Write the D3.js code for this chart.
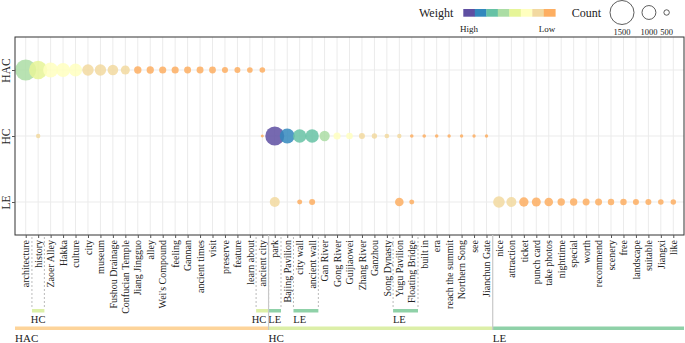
<!DOCTYPE html>
<html>
<head>
<meta charset="utf-8">
<script src="https://cdn.jsdelivr.net/npm/d3@7/dist/d3.min.js"></script>
<style>
    body { margin: 0; background: #fff; }
    svg { display: block; font-family: "Liberation Serif", "Times New Roman", serif; }
</style>
</head>
<body>
<div id="chart"></div>
<script>
// Themes (rows) and the words of each theme (columns)
const themes = ["HAC", "HC", "LE"];
const hacWords = ["architecture", "history", "Zaoer Alley", "Hakka", "culture", "city", "museum",
    "Fushou Drainage", "Confucian Temple", "Jiang Jingguo", "alley", "Wei's Compound", "feeling",
    "Gannan", "ancient times", "visit", "preserve", "feature", "learn about", "ancient city"];
const hcWords = ["park", "Bajing Pavilion", "city wall", "ancient wall", "Gan River", "Gong River",
    "Guijiaowei", "Zhang River", "Ganzhou", "Song Dynasty", "Yugu Pavilion", "Floating Bridge",
    "built in", "era", "reach the summit", "Northern Song", "see", "Jianchun Gate"];
const leWords = ["nice", "attraction", "ticket", "punch card", "take photos", "nighttime", "special",
    "worth", "recommend", "scenery", "free", "landscape", "suitable", "Jiangxi", "like"];

// [word, count, weight 0..1]
const hacPoints = [
    ["architecture", 1360, 0.57], ["history", 1230, 0.45], ["Zaoer Alley", 1060, 0.32],
    ["Hakka", 1005, 0.32], ["culture", 955, 0.32], ["city", 865, 0.2], ["museum", 865, 0.2],
    ["Fushou Drainage", 820, 0.2], ["Confucian Temple", 725, 0.2], ["Jiang Jingguo", 627, 0.07],
    ["alley", 620, 0.07], ["Wei's Compound", 610, 0.07], ["feeling", 610, 0.07], ["Gannan", 600, 0.07],
    ["ancient times", 600, 0.07], ["visit", 590, 0.07], ["preserve", 540, 0.07], ["feature", 537, 0.07],
    ["learn about", 515, 0.07], ["ancient city", 510, 0.07]
];
const hcPoints = [
    ["history", 427, 0.2], ["ancient city", 321, 0.07], ["park", 1262, 0.95],
    ["Bajing Pavilion", 1059, 0.82], ["city wall", 974, 0.7], ["ancient wall", 974, 0.7],
    ["Gan River", 800, 0.57], ["Gong River", 610, 0.32], ["Guijiaowei", 577, 0.32],
    ["Zhang River", 537, 0.2], ["Ganzhou", 490, 0.2], ["Song Dynasty", 450, 0.2],
    ["Yugu Pavilion", 427, 0.2], ["Floating Bridge", 368, 0.07], ["built in", 368, 0.07],
    ["era", 365, 0.07], ["reach the summit", 353, 0.07], ["Northern Song", 353, 0.07],
    ["see", 350, 0.07], ["Jianchun Gate", 350, 0.07]
];
const lePoints = [
    ["park", 784, 0.2], ["city wall", 469, 0.07], ["ancient wall", 537, 0.07],
    ["Yugu Pavilion", 701, 0.07], ["Floating Bridge", 469, 0.07], ["nice", 875, 0.2],
    ["attraction", 784, 0.2], ["ticket", 749, 0.07], ["punch card", 725, 0.07],
    ["take photos", 701, 0.07], ["nighttime", 627, 0.07], ["special", 627, 0.07], ["worth", 602, 0.07],
    ["recommend", 602, 0.07], ["scenery", 564, 0.07], ["free", 564, 0.07], ["landscape", 537, 0.07],
    ["suitable", 537, 0.07], ["Jiangxi", 510, 0.07], ["like", 497, 0.07]
];

// High -> Low
const weightColors = ["#5e4fa2", "#3288bd", "#66c2a5", "#abdda4", "#e6f598", "#ffffbf", "#f2d9a0", "#fdae61"];
const countTicks = [1500, 1000, 500];
const themeColors = { HAC: "#fdd49a", HC: "#dcefa8", LE: "#8fd1a8" };

// words whose main theme differs from the group they sit in
const reassigned = [
    { words: ["history"], theme: "HC" },
    { words: ["ancient city"], theme: "HC" },
    { words: ["park"], theme: "LE" },
    { words: ["city wall", "ancient wall"], theme: "LE" },
    { words: ["Yugu Pavilion", "Floating Bridge"], theme: "LE" }
];

const W = 685, H = 343;
const plot = { left: 15, right: 684, top: 37, bottom: 235 };

const words = hacWords.concat(hcWords, leWords);
const groups = [
    { theme: "HAC", words: hacWords },
    { theme: "HC", words: hcWords },
    { theme: "LE", words: leWords }
];

const svg = d3.select("#chart").append("svg")
    .attr("width", W).attr("height", H);

const x = d3.scalePoint().domain(words).range([plot.left, plot.right]).padding(0.86);
const y = d3.scalePoint().domain(themes).range([plot.top, plot.bottom]).padding(0.5);
const r = d3.scalePow().exponent(1.35).domain([0, 1500]).range([0, 12]);
const color = d3.scaleQuantize().domain([0, 1]).range(weightColors.slice().reverse());
const step = x.step();

// --- grid ---
const grid = svg.append("g");
grid.selectAll(".vg").data(words).join("line")
    .attr("x1", d => x(d)).attr("x2", d => x(d))
    .attr("y1", plot.top).attr("y2", plot.bottom)
    .attr("stroke", "#ebebeb").attr("stroke-width", 1);
grid.selectAll(".hg").data(themes).join("line")
    .attr("x1", plot.left).attr("x2", plot.right)
    .attr("y1", d => y(d)).attr("y2", d => y(d))
    .attr("stroke", "#ebebeb").attr("stroke-width", 1);

// --- points ---
const points = [];
[["HAC", hacPoints], ["HC", hcPoints], ["LE", lePoints]].forEach(([t, arr]) => {
    arr.forEach(([w, c, wt]) => points.push({ theme: t, word: w, count: c, weight: wt }));
});
points.sort((a, b) => x(a.word) - x(b.word));

svg.append("g").selectAll("circle").data(points).join("circle")
    .attr("cx", d => x(d.word))
    .attr("cy", d => y(d.theme))
    .attr("r", d => r(d.count))
    .attr("fill", d => color(d.weight))
    .attr("fill-opacity", 0.85);

// --- frame + axes ---
svg.append("rect")
    .attr("x", plot.left).attr("y", plot.top)
    .attr("width", plot.right - plot.left).attr("height", plot.bottom - plot.top)
    .attr("fill", "none").attr("stroke", "#333").attr("stroke-width", 1);

const xAxis = svg.append("g")
    .attr("transform", `translate(0,${plot.bottom})`)
    .call(d3.axisBottom(x).tickSize(3));
xAxis.select(".domain").remove();
xAxis.selectAll("line").attr("stroke", "#555");
xAxis.selectAll("text")
    .attr("transform", "rotate(-90)")
    .attr("x", -5).attr("y", 0).attr("dy", "0.32em")
    .attr("text-anchor", "end")
    .attr("fill", "#222")
    .style("font-family", "Liberation Serif")
    .style("font-size", "10px");

const yAxis = svg.append("g")
    .attr("transform", `translate(${plot.left},0)`)
    .call(d3.axisLeft(y).tickSize(3));
yAxis.select(".domain").remove();
yAxis.selectAll("line").attr("stroke", "#555");
yAxis.selectAll("text")
    .attr("transform", "rotate(-90)")
    .attr("x", 0).attr("y", -5).attr("dy", 0)
    .attr("text-anchor", "middle")
    .attr("fill", "#222")
    .style("font-family", "Liberation Serif")
    .style("font-size", "11.5px");

// --- bottom theme bars ---
const bottom = svg.append("g");
const groupBarY = 326.5, subBarY = 309;

groups.forEach((g, i) => {
    const x0 = i === 0 ? plot.left : x(g.words[0]) - step / 2;
    const x1 = i === groups.length - 1 ? plot.right : x(g.words[g.words.length - 1]) + step / 2;
    bottom.append("rect")
        .attr("x", x0).attr("y", groupBarY)
        .attr("width", x1 - x0).attr("height", 3.5)
        .attr("fill", themeColors[g.theme]);
    bottom.append("text")
        .attr("x", x0).attr("y", 341.5)
        .attr("fill", "#222").style("font-size", "11px")
        .text(g.theme);
});

const subLabels = [];
reassigned.forEach(a => {
    const x0 = x(a.words[0]) - step / 2;
    const x1 = x(a.words[a.words.length - 1]) + step / 2;
    [x0, x1].forEach(xx => {
        bottom.append("line")
            .attr("x1", xx).attr("x2", xx)
            .attr("y1", plot.bottom + 2).attr("y2", subBarY)
            .attr("stroke", "#aaa").attr("stroke-width", 0.8)
            .attr("stroke-dasharray", "2,2");
    });
    bottom.append("rect")
        .attr("x", x0).attr("y", subBarY)
        .attr("width", x1 - x0).attr("height", 3.5)
        .attr("fill", themeColors[a.theme]);
    const t = bottom.append("text")
        .attr("x", x(a.words[0])).attr("y", 323)
        .attr("text-anchor", "middle")
        .attr("fill", "#222").style("font-size", "10.5px")
        .text(a.theme);
    subLabels.push(t);
});

// nudge crowded labels apart (push the left one leftwards)
for (let i = subLabels.length - 1; i > 0; i--) {
    const a = subLabels[i - 1].node().getBBox();
    const b = subLabels[i].node().getBBox();
    const overlap = a.x + a.width + 2 - b.x;
    if (overlap > 0) {
        subLabels[i - 1].attr("x", +subLabels[i - 1].attr("x") - overlap);
    }
}

// group separators
groups.slice(1).forEach(g => {
    const xx = x(g.words[0]) - step / 2;
    bottom.append("line")
        .attr("x1", xx).attr("x2", xx)
        .attr("y1", plot.bottom).attr("y2", groupBarY + 3.5)
        .attr("stroke", "#c8c8c8").attr("stroke-width", 1.2);
});

// --- legend ---
const legend = svg.append("g");
legend.append("text").attr("x", 419).attr("y", 17)
    .attr("fill", "#222").style("font-size", "12px").text("Weight");
const sw = 11.5;
legend.selectAll(".sw").data(weightColors).join("rect")
    .attr("x", (d, i) => 463.3 + i * sw).attr("y", 9)
    .attr("width", sw + 0.3).attr("height", 7.7)
    .attr("fill", d => d);
legend.append("text").attr("x", 460).attr("y", 32)
    .attr("fill", "#222").style("font-size", "9px").text("High");
legend.append("text").attr("x", 463.3 + weightColors.length * sw).attr("y", 32)
    .attr("text-anchor", "end")
    .attr("fill", "#222").style("font-size", "9px").text("Low");

legend.append("text").attr("x", 571.7).attr("y", 17)
    .attr("fill", "#222").style("font-size", "12px").text("Count");
let cx = 610;
countTicks.forEach((c, i) => {
    const rr = r(c);
    if (i > 0) cx += 8 + rr;
    else cx += rr;
    legend.append("circle").attr("cx", cx).attr("cy", 12.5).attr("r", rr)
        .attr("fill", "none").attr("stroke", "#333").attr("stroke-width", 0.8);
    legend.append("text").attr("x", cx).attr("y", 34.5)
        .attr("text-anchor", "middle")
        .attr("fill", "#222").style("font-size", "8.5px").text(c);
    cx += rr;
});
</script>
</body>
</html>
